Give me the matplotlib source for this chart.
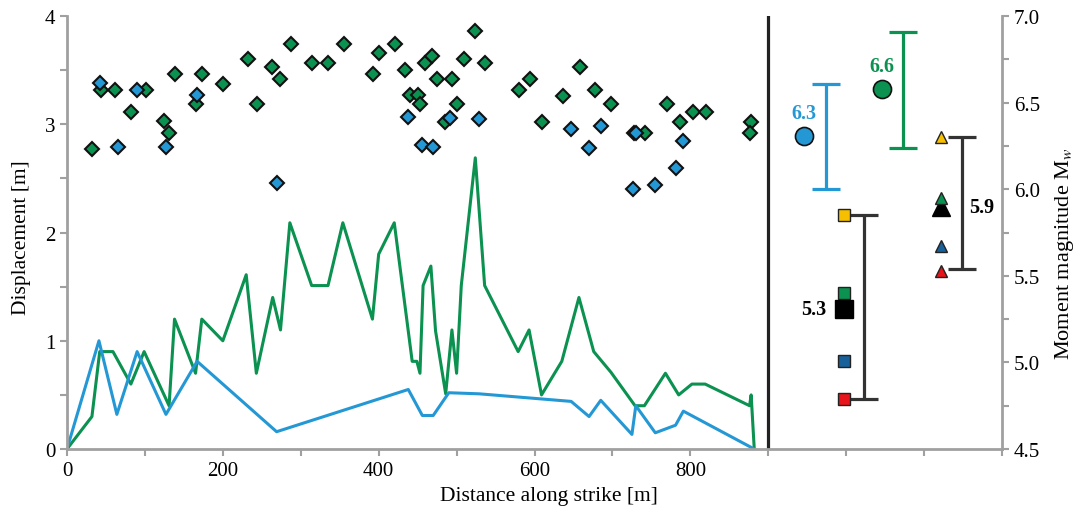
import numpy as np
import matplotlib as mpl

mpl.use('Agg')
import matplotlib.pyplot as plt
from matplotlib.ticker import FixedLocator, MultipleLocator, FuncFormatter

plt.rcParams['font.family'] = ['Liberation Serif', 'DejaVu Serif']
plt.rcParams['mathtext.fontset'] = 'stix'

GREEN = '#0b9150'
BLUE = '#2498d5'
GREY = '#a0a0a0'

# displacement profiles along strike
green_x = [0, 32, 42, 59, 82, 99, 131, 138, 165, 173, 200, 230, 243, 264, 274, 286,
           314, 335, 354, 392, 400, 420, 443, 449, 453, 457, 467, 473, 486, 494, 500,
           506, 524, 536, 579, 593, 609, 635, 657, 676, 698, 729, 741, 768, 785, 802,
           819, 876, 878, 882]
green_y = [0, 0.30, 0.90, 0.90, 0.60, 0.90, 0.40, 1.20, 0.70, 1.20, 1.00, 1.61, 0.70,
           1.40, 1.10, 2.09, 1.51, 1.51, 2.09, 1.20, 1.80, 2.09, 0.81, 0.81, 0.70, 1.51,
           1.69, 1.09, 0.51, 1.10, 0.70, 1.51, 2.69, 1.51, 0.90, 1.10, 0.50, 0.81, 1.40,
           0.90, 0.71, 0.40, 0.40, 0.70, 0.50, 0.60, 0.60, 0.40, 0.50, 0.0]

blue_x = [0, 41, 64, 90, 127, 167, 269, 438, 456, 470, 490, 529, 647, 670, 685, 725,
          730, 755, 781, 791, 882]
blue_y = [0, 1.00, 0.32, 0.90, 0.32, 0.81, 0.16, 0.55, 0.31, 0.31, 0.52, 0.51, 0.44,
          0.30, 0.45, 0.135, 0.40, 0.15, 0.22, 0.35, 0.0]

# diamonds (point measurements)
gd_x = [32, 44, 61, 82, 101, 125, 131, 138, 165, 173, 200, 232, 244, 263, 274, 287,
        315, 335, 355, 393, 400, 421, 434, 440, 450, 453, 459, 468, 475, 485, 494, 500,
        509, 524, 536, 580, 594, 609, 636, 658, 678, 698, 728, 742, 770, 787, 803, 820,
        878, 876]
gd_y = [2.77, 3.32, 3.32, 3.11, 3.32, 3.03, 2.92, 3.46, 3.19, 3.46, 3.37, 3.60, 3.19,
        3.53, 3.42, 3.74, 3.57, 3.57, 3.74, 3.46, 3.66, 3.74, 3.50, 3.27, 3.27, 3.19,
        3.57, 3.63, 3.42, 3.02, 3.42, 3.19, 3.60, 3.86, 3.57, 3.32, 3.42, 3.02, 3.26,
        3.53, 3.32, 3.19, 2.92, 2.92, 3.19, 3.02, 3.11, 3.11, 3.02, 2.92]

bd_x = [42, 66, 90, 127, 167, 269, 438, 456, 470, 491, 529, 647, 670, 685, 726, 730,
        755, 781, 791]
bd_y = [3.38, 2.79, 3.32, 2.79, 3.27, 2.46, 3.07, 2.81, 2.79, 3.06, 3.05, 2.96, 2.78,
        2.98, 2.40, 2.92, 2.44, 2.60, 2.85]

# magnitude estimates (right axis)
circ_x = [946, 1046]
circ_mw = [6.31, 6.58]
circ_err_x = [974, 1073]
circ_err_lo = [6.0, 6.24]
circ_err_hi = [6.61, 6.91]
circ_labels = ['6.3', '6.6']

sq_x = 997
sq_mw = [5.85, 5.40, 5.01, 4.79]
sq_cols = ['#f6c000', GREEN, '#17609a', '#e8131b']
sq_mean = 5.31
sq_err = (1023, 4.79, 5.85)

tri_x = 1122
tri_mw = [6.30, 5.95, 5.67, 5.53]
tri_cols = ['#f6c000', GREEN, '#17609a', '#e8131b']
tri_mean = 5.90
tri_err = (1148, 5.54, 6.30)

fig = plt.figure(figsize=(10.84, 5.10), dpi=100)
ax = fig.add_axes([0.0618, 0.1176, 0.8626, 0.849])

ax.plot(green_x, green_y, color=GREEN, lw=2.2, zorder=2)
ax.plot(blue_x, blue_y, color=BLUE, lw=2.2, zorder=2)
ax.plot(gd_x, gd_y, 'D', ms=7, mfc=GREEN, mec='#111111', mew=1.5, ls='none', zorder=3)
ax.plot(bd_x, bd_y, 'D', ms=7, mfc=BLUE, mec='#111111', mew=1.5, ls='none', zorder=4)
ax.plot([900, 900], [0, 4], color='#222222', lw=2.3, zorder=2)

ax.set_xlim(0, 1200)
ax.set_ylim(0, 4)
ax.xaxis.set_major_locator(FixedLocator(np.arange(0, 1201, 100)))
ax.xaxis.set_major_formatter(FuncFormatter(
    lambda v, p: f'{v:.0f}' if v <= 800 and v % 200 == 0 else ''))
ax.yaxis.set_major_locator(MultipleLocator(1))
ax.yaxis.set_minor_locator(MultipleLocator(0.5))

for s in ['top', 'right']:
    ax.spines[s].set_visible(False)
for s in ['left', 'bottom']:
    ax.spines[s].set_color(GREY)
    ax.spines[s].set_linewidth(2)
ax.tick_params(which='both', direction='out', length=5, width=1.5, color=GREY,
               labelsize=15)

ax.set_ylabel('Displacement [m]', fontsize=15.5)
ax.yaxis.set_label_coords(-0.0385, 0.49)
ax.set_xlabel('Distance along strike [m]', fontsize=15.5, ha='left')
ax.xaxis.set_label_coords(0.399, -0.085)

ax2 = ax.twinx()
ax2.set_ylim(4.5, 7.0)
ax2.yaxis.set_major_locator(MultipleLocator(0.5))
ax2.yaxis.set_minor_locator(MultipleLocator(0.25))
ax2.yaxis.set_major_formatter(FuncFormatter(lambda v, p: f'{v:.1f}'))
for s in ['top', 'left', 'bottom']:
    ax2.spines[s].set_visible(False)
ax2.spines['right'].set_color(GREY)
ax2.spines['right'].set_linewidth(2)
ax2.tick_params(which='both', direction='out', length=5, width=1.5, color=GREY,
                labelsize=15)
ax2.set_ylabel('Moment magnitude M$_w$', fontsize=16)
ax2.yaxis.set_label_coords(1.0545, 0.453)

# circles with error bars
for x, m, ex, lo, hi, lab, c in zip(circ_x, circ_mw, circ_err_x, circ_err_lo,
                                    circ_err_hi, circ_labels, [BLUE, GREEN]):
    ax2.errorbar([ex], [(lo + hi) / 2], yerr=[[(hi - lo) / 2], [(hi - lo) / 2]],
                 color=c, lw=2.3, capsize=10, capthick=2.3, fmt='none')
    ax2.plot(x, m, 'o', ms=13, mfc=c, mec='#111111', mew=1.2)
    ax2.text(x, m + 0.13, lab, color=c, fontsize=14.5, fontweight='bold',
             ha='center', va='center')

# squares
ex, lo, hi = sq_err
ax2.errorbar([ex], [(lo + hi) / 2], yerr=[[(hi - lo) / 2], [(hi - lo) / 2]],
             color='#333333', lw=2.3, capsize=10, capthick=2.3, fmt='none')
for m, c in zip(sq_mw, sq_cols):
    ax2.plot(sq_x, m, 's', ms=8.5, mfc=c, mec='#222222', mew=1.0)
ax2.plot(sq_x, sq_mean, 's', ms=13.5, mfc='black', mec='black')
ax2.text(sq_x - 22, sq_mean, '5.3', fontsize=14.5, fontweight='bold',
         ha='right', va='center')

# triangles
ex, lo, hi = tri_err
ax2.errorbar([ex], [(lo + hi) / 2], yerr=[[(hi - lo) / 2], [(hi - lo) / 2]],
             color='#333333', lw=2.3, capsize=10, capthick=2.3, fmt='none')
ax2.plot(tri_x, tri_mw[0], '^', ms=9, mfc=tri_cols[0], mec='#222222', mew=1.0)
ax2.plot(tri_x, tri_mean, '^', ms=13.5, mfc='black', mec='black')
ax2.plot(tri_x, tri_mw[1], '^', ms=9, mfc=tri_cols[1], mec='#222222', mew=1.0)
for m, c in zip(tri_mw[2:], tri_cols[2:]):
    ax2.plot(tri_x, m, '^', ms=9, mfc=c, mec='#222222', mew=1.0)
ax2.text(tri_x + 36, tri_mean, '5.9', fontsize=14.5, fontweight='bold',
         ha='left', va='center')

fig.savefig('out.png', dpi=100)
